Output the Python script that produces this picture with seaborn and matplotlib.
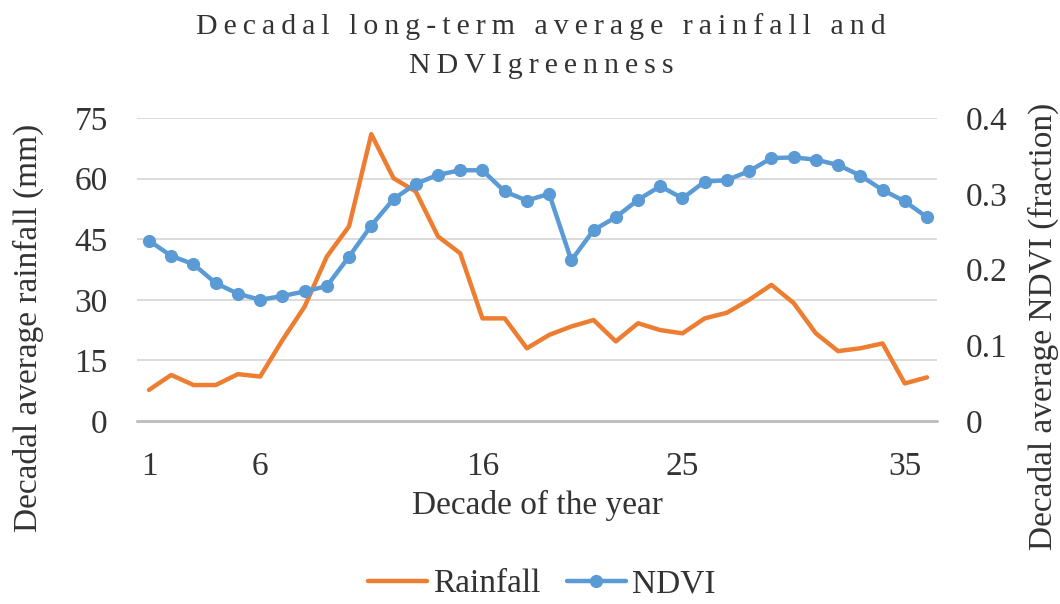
import matplotlib
matplotlib.use("Agg")
import matplotlib.pyplot as plt
from matplotlib.lines import Line2D
import numpy as np
import pandas as pd
import seaborn as sns

# Decades of the year (1..36) and long-term averages per decade
decades = list(range(1, 37))
rainfall_mm = [7.7, 11.4, 8.9, 8.9, 11.6, 11.0, 20.0, 28.3, 40.7, 48.2,
               71.0, 60.1, 56.8, 45.7, 41.5, 25.4, 25.4, 18.0, 21.3, 23.4,
               25.0, 19.7, 24.2, 22.5, 21.7, 25.4, 26.8, 30.0, 33.7, 29.2,
               21.7, 17.3, 18.0, 19.2, 9.3, 10.8]
ndvi = [0.238, 0.218, 0.207, 0.182, 0.168, 0.160, 0.165, 0.171, 0.178, 0.217,
        0.258, 0.293, 0.313, 0.325, 0.331, 0.331, 0.303, 0.291, 0.300, 0.212,
        0.252, 0.269, 0.292, 0.310, 0.294, 0.316, 0.318, 0.330, 0.347, 0.348,
        0.345, 0.338, 0.324, 0.305, 0.290, 0.269]

x_tick_decades = [1, 6, 16, 25, 35]
rain_ticks = [0, 15, 30, 45, 60, 75]
ndvi_ticks = [0, 0.1, 0.2, 0.3, 0.4]
ndvi_tick_labels = ["0", "0.1", "0.2", "0.3", "0.4"]

title_lines = ["Decadal long-term average rainfall and", "NDVIgreenness"]
series_names = ["Rainfall", "NDVI"]

ORANGE = "#ED7D31"
BLUE = "#5B9BD5"
TEXT = "#333333"

sns.set_style("white")
plt.rcParams["font.family"] = ["Liberation Serif", "DejaVu Serif"]
plt.rcParams["text.color"] = TEXT
plt.rcParams["axes.labelcolor"] = TEXT
plt.rcParams["xtick.color"] = TEXT
plt.rcParams["ytick.color"] = TEXT

df = pd.DataFrame({"decade": decades, "rain": rainfall_mm, "ndvi": ndvi})

fig = plt.figure(figsize=(10.6, 6.04), dpi=100)
ax = fig.add_axes([137 / 1060, 1 - 421 / 604, 800 / 1060, 303 / 604])
ax2 = ax.twinx()

sns.lineplot(data=df, x="decade", y="rain", ax=ax, color=ORANGE,
             linewidth=3.2, legend=False)
sns.lineplot(data=df, x="decade", y="ndvi", ax=ax2, color=BLUE,
             linewidth=3.2, marker="o", markersize=9.5,
             markeredgewidth=0, legend=False)

ax.set_xlim(0.46, 36.45)
ax.set_ylim(0, 75)
ax2.set_ylim(0, 0.4)

ax.set_xticks(x_tick_decades)
ax.set_xticklabels([str(v) for v in x_tick_decades])
ax.set_yticks(rain_ticks)
ax.set_yticklabels([str(v) for v in rain_ticks])
ax2.set_yticks(ndvi_ticks)
ax2.set_yticklabels(ndvi_tick_labels)

fs = 24
ax.tick_params(axis="both", length=0, labelsize=fs)
ax.tick_params(axis="y", pad=21)
ax.tick_params(axis="x", pad=22)
ax2.tick_params(axis="y", length=0, labelsize=fs, pad=21)

ax.yaxis.grid(True, color="#D9D9D9", linewidth=1.3)
ax.xaxis.grid(False)
ax2.grid(False)
for a in (ax, ax2):
    for side in ("top", "left", "right", "bottom"):
        a.spines[side].set_visible(False)
ax.axhline(0, color="#BFBFBF", linewidth=2.2, zorder=1, clip_on=False)

ax.set_xlabel("Decade of the year", fontsize=fs, labelpad=6)
ax.set_ylabel("Decadal average rainfall (mm)", fontsize=fs, va="center", ha="center")
ax.yaxis.set_label_coords((28 - 137) / 800, (421 - 328) / 303)
ax2.set_ylabel("Decadal average NDVI (fraction)", fontsize=fs, va="center",
               ha="center", rotation=90)
ax2.yaxis.set_label_coords((1043 - 137) / 800, (421 - 326) / 303)

# Letter-spaced two-line title
spaced = ["\u2009".join(line) for line in title_lines]
fig.text(541 / 1060, 1 - 34 / 604, spaced[0], ha="center", va="baseline", fontsize=21.5)
fig.text(541 / 1060, 1 - 73 / 604, spaced[1], ha="center", va="baseline", fontsize=21.5)

handles = [
    Line2D([], [], color=ORANGE, linewidth=3.2),
    Line2D([], [], color=BLUE, linewidth=3.2, marker="o", markersize=9.5,
           markeredgewidth=0),
]
fig.legend(handles, series_names, loc="center", bbox_to_anchor=(542 / 1060, 1 - 584 / 604),
           ncol=2, frameon=False, fontsize=fs, handlelength=1.75, handletextpad=0.2,
           columnspacing=0.8, borderaxespad=0, borderpad=0)

fig.savefig("out.png", dpi=100)
